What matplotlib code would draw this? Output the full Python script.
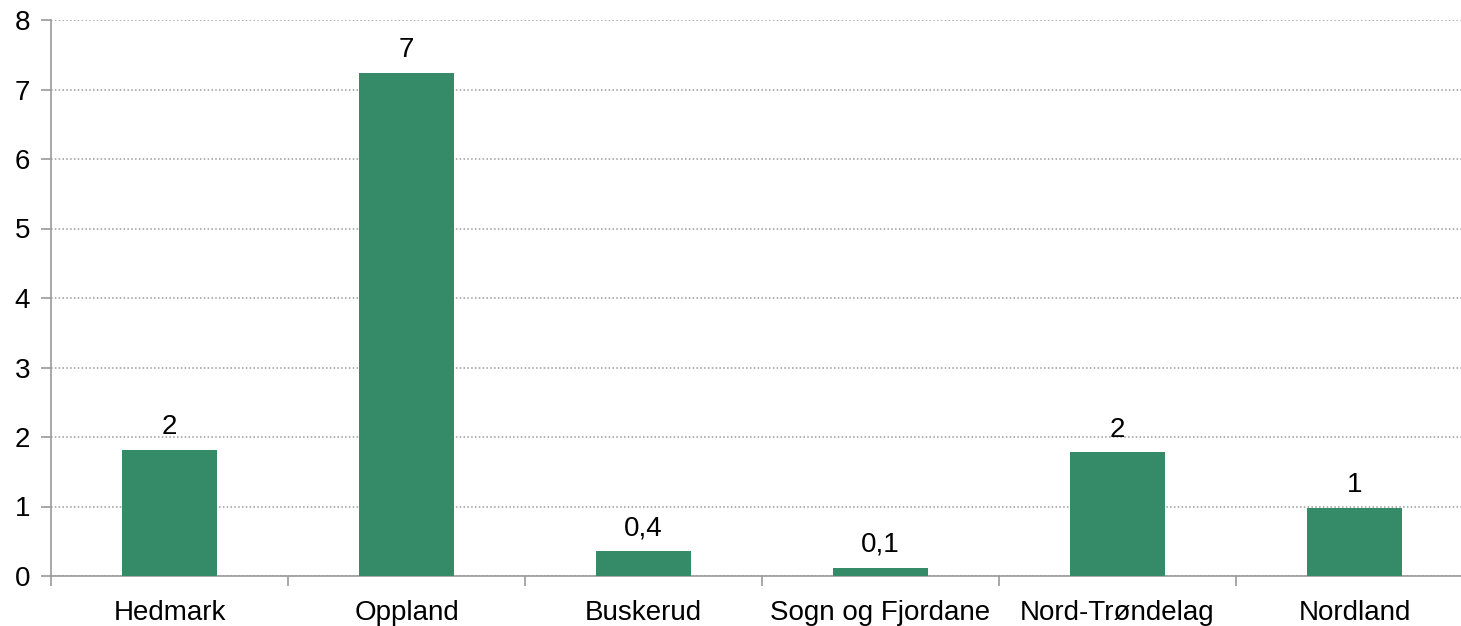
import matplotlib
matplotlib.use("Agg")
import matplotlib.pyplot as plt
import numpy as np

regions = ["Hedmark", "Oppland", "Buskerud", "Sogn og Fjordane", "Nord-Trøndelag", "Nordland"]
values = [1.82, 7.24, 0.36, 0.12, 1.78, 0.98]
labels = ["2", "7", "0,4", "0,1", "2", "1"]

plt.rcParams['font.family'] = ['Liberation Sans', 'DejaVu Sans']

fig = plt.figure(figsize=(14.61, 6.26), dpi=100)
ax = fig.add_axes([51/1461, 50/626, 1 - 51/1461, 556/626])

x = np.arange(len(regions))
bars = ax.bar(x, values, width=0.4, color="#358b67", zorder=3)
for b, lab in zip(bars, labels):
    ax.text(b.get_x() + b.get_width()/2, b.get_height() + 0.14, lab,
            ha="center", va="bottom", fontsize=20)

ax.set_yticks(range(0, 9))
ax.yaxis.grid(True, linestyle=(0, (1, 1.5)), color="#9a9a9a", linewidth=1.1)
ax.set_axisbelow(True)

ax.set_xticks(x)
ax.set_xticklabels(regions, fontsize=20)
ax.set_xticks(np.arange(-0.5, len(regions)), minor=True)
ax.tick_params(axis="x", which="major", length=0, pad=17)
ax.tick_params(axis="x", which="minor", length=7, color="#999999", width=1.2)
ax.tick_params(axis="y", length=7, color="#999999", width=1.2, labelsize=20, pad=8)

# limits after ticks, otherwise set_xticks widens them
ax.set_ylim(0, 8)
ax.set_xlim(-0.5, -0.5 + (1461 - 51) / 237)

for s in ["top", "right"]:
    ax.spines[s].set_visible(False)
for s in ["left", "bottom"]:
    ax.spines[s].set_color("#999999")
    ax.spines[s].set_linewidth(1.2)

fig.savefig("out.png", dpi=100)
